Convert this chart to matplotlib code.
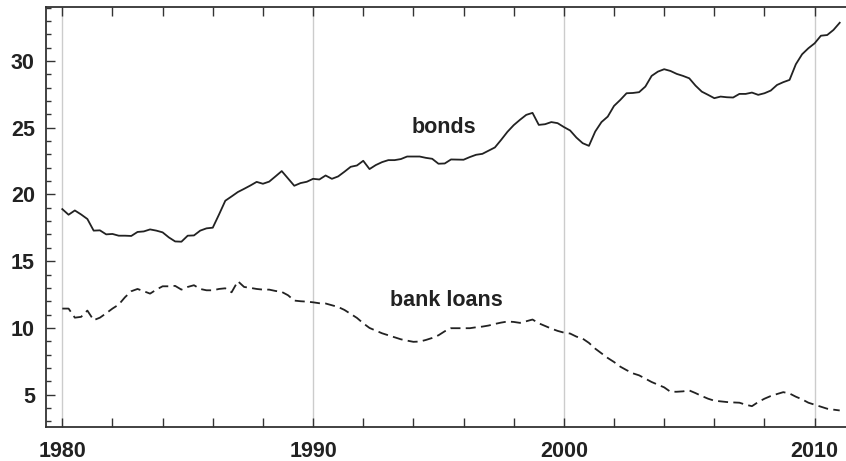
import numpy as np
import matplotlib.pyplot as plt
from matplotlib.ticker import MultipleLocator

plt.rcParams['font.family'] = ['Liberation Sans', 'DejaVu Sans']
plt.rcParams['lines.scale_dashes'] = False

# quarterly observations, 1980Q1 .. 2011Q1
years = 1980 + 0.25 * np.arange(125)

bonds = [
    18.90, 18.48, 18.80, 18.50,   # 1980
    18.16, 17.29, 17.31, 17.01,   # 1981
    17.04, 16.91, 16.91, 16.89,   # 1982
    17.19, 17.23, 17.38, 17.29,   # 1983
    17.16, 16.78, 16.48, 16.46,   # 1984
    16.91, 16.93, 17.29, 17.46,   # 1985
    17.51, 18.50, 19.53, 19.85,   # 1986
    20.18, 20.42, 20.67, 20.94,   # 1987
    20.80, 20.96, 21.35, 21.75,   # 1988
    21.20, 20.65, 20.85, 20.95,   # 1989
    21.17, 21.12, 21.42, 21.17,   # 1990
    21.35, 21.70, 22.07, 22.17,   # 1991
    22.52, 21.90, 22.20, 22.42,   # 1992
    22.57, 22.57, 22.65, 22.84,   # 1993
    22.84, 22.84, 22.74, 22.67,   # 1994
    22.30, 22.32, 22.62, 22.61,   # 1995
    22.60, 22.80, 22.97, 23.04,   # 1996
    23.28, 23.52, 24.09, 24.69,   # 1997
    25.19, 25.59, 25.96, 26.11,   # 1998
    25.21, 25.26, 25.42, 25.34,   # 1999
    25.05, 24.79, 24.26, 23.84,   # 2000
    23.64, 24.71, 25.42, 25.83,   # 2001
    26.63, 27.08, 27.58, 27.60,   # 2002
    27.66, 28.08, 28.88, 29.20,   # 2003
    29.38, 29.25, 29.03, 28.88,   # 2004
    28.70, 28.15, 27.70, 27.46,   # 2005
    27.21, 27.33, 27.28, 27.26,   # 2006
    27.53, 27.53, 27.63, 27.46,   # 2007
    27.58, 27.78, 28.20, 28.41,   # 2008
    28.58, 29.75, 30.50, 30.95,   # 2009
    31.32, 31.89, 31.94, 32.32,   # 2010
    32.86,                        # 2011
]

bank_loans = [
    11.45, 11.45, 10.77, 10.83,   # 1980
    11.30, 10.58, 10.77, 11.10,   # 1981
    11.45, 11.75, 12.30, 12.75,   # 1982
    12.92, 12.75, 12.57, 12.87,   # 1983
    13.12, 13.12, 13.15, 12.87,   # 1984
    13.07, 13.20, 12.92, 12.82,   # 1985
    12.82, 12.92, 12.97, 12.67,   # 1986
    13.50, 13.07, 13.00, 12.92,   # 1987
    12.87, 12.87, 12.77, 12.70,   # 1988
    12.45, 12.05, 12.00, 11.97,   # 1989
    11.92, 11.85, 11.83, 11.70,   # 1990
    11.57, 11.35, 11.05, 10.75,   # 1991
    10.35, 10.00, 9.80, 9.60,     # 1992
    9.45, 9.30, 9.15, 9.05,       # 1993
    8.96, 8.98, 9.10, 9.25,       # 1994
    9.45, 9.75, 9.98, 9.98,       # 1995
    9.98, 9.98, 10.05, 10.10,     # 1996
    10.18, 10.30, 10.40, 10.48,   # 1997
    10.45, 10.38, 10.50, 10.63,   # 1998
    10.35, 10.15, 9.95, 9.78,     # 1999
    9.65, 9.58, 9.35, 9.20,       # 2000
    8.88, 8.45, 8.10, 7.75,       # 2001
    7.45, 7.10, 6.84, 6.60,       # 2002
    6.45, 6.20, 5.95, 5.75,       # 2003
    5.55, 5.22, 5.22, 5.25,       # 2004
    5.32, 5.12, 4.90, 4.70,       # 2005
    4.55, 4.50, 4.45, 4.42,       # 2006
    4.40, 4.25, 4.14, 4.45,       # 2007
    4.70, 4.90, 5.05, 5.19,       # 2008
    5.09, 4.85, 4.65, 4.40,       # 2009
    4.25, 4.10, 3.95, 3.88,       # 2010
    3.82,                         # 2011
]

fig = plt.figure(figsize=(8.46, 4.61), dpi=100)
ax = fig.add_axes([46 / 846, 34 / 461, 805 / 846, 420 / 461])

ink = '#222222'
ax.plot(years, bonds, color=ink, lw=1.3)
ax.plot(years, bank_loans, color=ink, lw=1.3, dashes=(7.2, 3.8))

ax.text(1995.2, 25.05, 'bonds', ha='center', va='center',
        fontsize=15.5, fontweight='bold', color=ink)
ax.text(1995.3, 12.05, 'bank loans', ha='center', va='center',
        fontsize=15.5, fontweight='bold', color=ink)

ax.set_xlim(1979.35, 2011.45)
ax.set_ylim(2.58, 34.04)

ax.xaxis.set_major_locator(MultipleLocator(10))
ax.xaxis.set_minor_locator(MultipleLocator(2))
ax.yaxis.set_major_locator(MultipleLocator(5))
ax.yaxis.set_minor_locator(MultipleLocator(1))
ax.set_yticks([5, 10, 15, 20, 25, 30])

ax.grid(axis='x', which='major', color='#cccccc', lw=1.0)
ax.set_axisbelow(True)

ax.tick_params(axis='x', which='both', direction='in', top=True,
               length=6.5, width=1.0, color='#333333', pad=10)
ax.tick_params(axis='y', which='major', direction='in', length=6.5,
               width=1.0, color='#333333', pad=8)
ax.tick_params(axis='y', which='minor', direction='in', length=3.5,
               width=1.0, color='#333333')
ax.tick_params(labelsize=15.5, labelcolor=ink)
for lab in ax.get_xticklabels() + ax.get_yticklabels():
    lab.set_fontweight('bold')

for side in ['left', 'top', 'bottom']:
    ax.spines[side].set_color('#333333')
    ax.spines[side].set_linewidth(1.3)
ax.spines['right'].set_visible(False)

fig.savefig('out.png', dpi=100)
